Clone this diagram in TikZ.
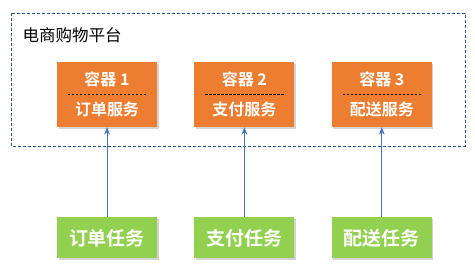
\documentclass[tikz,border=0pt]{standalone}
\usepackage{fontspec}
\newfontfamily\cjk{Noto Sans CJK SC}[BoldFont={Noto Sans CJK SC Bold}]
\usepackage{tikz}
\usetikzlibrary{arrows.meta,positioning,shadows}
\definecolor{svcorange}{HTML}{ED7D31}
\definecolor{taskgreen}{HTML}{92D050}
\definecolor{linkblue}{HTML}{4472C4}
\definecolor{frameblue}{HTML}{2F5597}

\begin{document}
\begin{tikzpicture}[
  x=1pt, y=-1pt,
  font=\cjk,
  svc/.style={fill=svcorange, text=white, font=\cjk\bfseries\fontsize{16}{18}\selectfont, align=center, inner sep=0pt,
    minimum width=100pt, minimum height=65pt, drop shadow={opacity=0.35, shadow xshift=1.5pt, shadow yshift=-2pt}},
  task/.style={fill=taskgreen, text=white, font=\cjk\bfseries\fontsize{19}{22}\selectfont, inner sep=0pt,
    minimum width=100pt, minimum height=41pt, drop shadow={opacity=0.35, shadow xshift=1.5pt, shadow yshift=-2pt}},
  sep/.style={dashed, dash pattern=on 2.5pt off 1.5pt, black, line width=0.8pt},
  arr/.style={-{Stealth[length=2.6mm, width=2mm]}, linkblue, line width=0.8pt}
]
  \useasboundingbox (0,0) rectangle (475,270);
  % platform frame
  \draw[frameblue, dashed, dash pattern=on 3pt off 2pt, line width=0.7pt] (11,13) rectangle (465,146);
  \node[anchor=west, font=\cjk\fontsize{16.5}{19}\selectfont] (plat) at (19,35) {电商购物平台};
  % containers
  \node[svc] (c1) at (107,94.5) {容器 1\\[12pt]订单服务};
  \node[svc, right=37pt of c1] (c2) {容器 2\\[12pt]支付服务};
  \node[svc, right=37pt of c2] (c3) {容器 3\\[12pt]配送服务};
  \foreach \c in {c1,c2,c3}
    \draw[sep] ([xshift=11pt]\c.west) -- ([xshift=-10pt]\c.east);
  % tasks
  \node[task, below=90pt of c1] (t1) {订单任务};
  \node[task, below=90pt of c2] (t2) {支付任务};
  \node[task, below=90pt of c3] (t3) {配送任务};
  \draw[arr] (t1) -- (c1);
  \draw[arr] (t2) -- (c2);
  \draw[arr] (t3) -- (c3);
\end{tikzpicture}
\end{document}
